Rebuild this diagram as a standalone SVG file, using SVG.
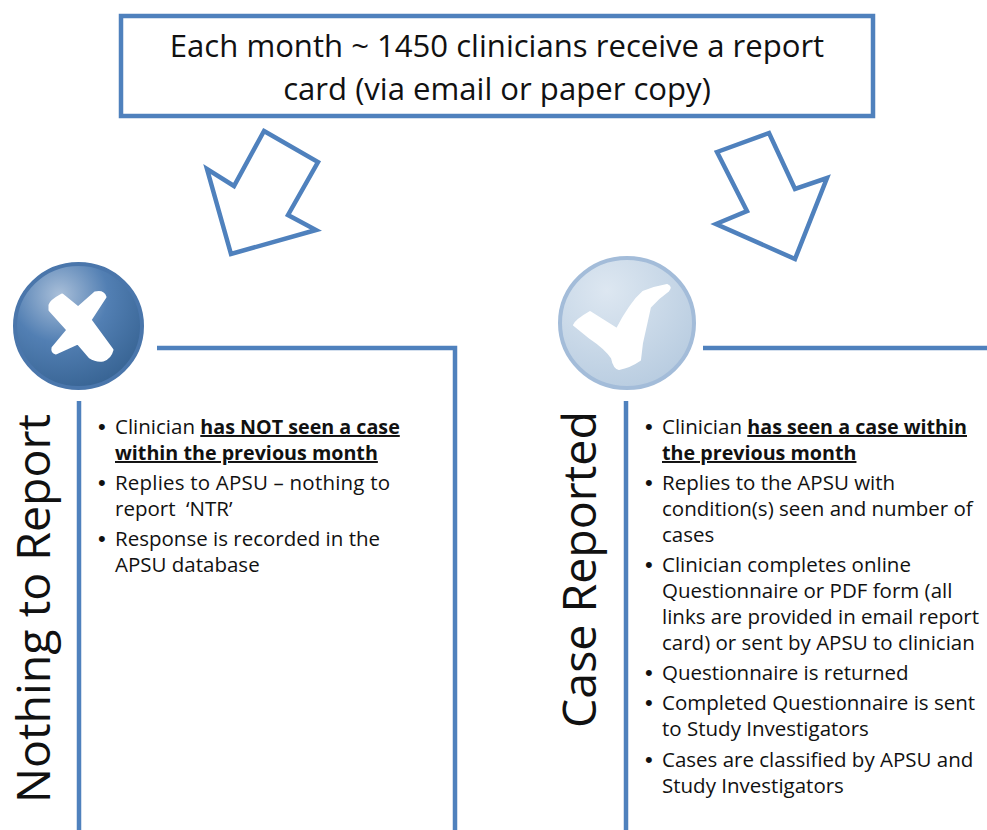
<svg xmlns="http://www.w3.org/2000/svg" width="987" height="830" viewBox="0 0 987 830">
<style>
text{font-family:"Open Sans","Noto Sans",sans-serif;fill:#111}
.b{font-size:20.5px}
.d{font-family:"Liberation Sans",sans-serif;font-size:22px}
.s{font-weight:700;text-decoration:underline;font-size:19.7px}
.l{fill:none;stroke:#4f81bd;stroke-width:4.5}
.v{font-size:46.5px}
</style>
<defs>
<radialGradient id="g1" cx="35%" cy="25%" r="85%"><stop offset="0" stop-color="#a9bfd9"/><stop offset="0.45" stop-color="#527fb3"/><stop offset="1" stop-color="#34608f"/></radialGradient>
<radialGradient id="g2" cx="35%" cy="25%" r="80%"><stop offset="0" stop-color="#dde7f1"/><stop offset="1" stop-color="#b8cce0"/></radialGradient>
</defs>
<rect width="987" height="830" fill="#fff"/>
<g id="top"><rect class="l" x="121" y="16" width="752" height="100" fill="#fff"/>
<text x="497" y="57" font-size="31.1" text-anchor="middle">Each month ~ 1450 clinicians receive a report</text>
<text x="497" y="100" font-size="31.1" text-anchor="middle">card (via email or paper copy)</text></g>
<g id="connectors">
<polygon class="l" points="264,131 318,162 288,215 316,230 231,254 207,169 234,186"/>
<polygon class="l" points="717,152 769,133 795,189 827,178 795,259 716,224 747,211"/>
</g>
<g id="ntr">
<ellipse cx="78.500" cy="326" rx="63.500" ry="62" fill="url(#g1)" stroke="#4a76ab" stroke-width="4"/>
<path d="M50,305 Q51,301 62,295 L78,308 L95,293 Q103,291 105,297 L90,320 L112,350 Q110,358 103,360 Q96,361 90,357 L78,343 L56,353 Q52,352 53,348 L68,330 L50,310 Z" fill="#fff" stroke="#fff" stroke-width="3" stroke-linejoin="round"/>
<polyline class="l" points="157,348 455,348 455,830"/>
<line class="l" x1="79" y1="401" x2="79" y2="830"/>
<text class="v" transform="translate(50,803) rotate(-90)">Nothing to Report</text>
<g class="b">
<text class="d" x="98" y="434">•</text><text x="115" y="434">Clinician <tspan class="s">has NOT seen a case</tspan></text>
<text x="115" y="460" class="s">within the previous month</text>
<text class="d" x="98" y="490">•</text><text x="115" y="490" textLength="275">Replies to APSU – nothing to</text>
<text x="115" y="516" xml:space="preserve">report  ‘NTR’</text>
<text class="d" x="98" y="546">•</text><text x="115" y="546">Response is recorded in the</text>
<text x="115" y="572">APSU database</text>
</g></g>
<g id="cr">
<ellipse cx="627" cy="323" rx="67" ry="65" fill="url(#g2)" stroke="#a3bcd9" stroke-width="4"/>
<path d="M574,325 Q576,320 590,312 L617,329 Q623,317 630,307 Q636,298 643,292 Q655,287 667,285 Q672,287 668,291 Q658,298 650,307 L642,343 L640,360 Q630,367 619,369 Q614,368 612,358 Q605,348 590,338 Z" fill="#fff" stroke="#fff" stroke-width="2" stroke-linejoin="round"/>
<line class="l" x1="703" y1="348" x2="987" y2="348"/>
<line class="l" x1="626" y1="401" x2="626" y2="830"/>
<text class="v" transform="translate(596,728) rotate(-90)">Case Reported</text>
<g class="b">
<text class="d" x="645" y="434">•</text><text x="662" y="434">Clinician <tspan class="s">has seen a case within</tspan></text>
<text x="662" y="460" class="s">the previous month</text>
<text class="d" x="645" y="490">•</text><text x="662" y="490">Replies to the APSU with</text>
<text x="662" y="516">condition(s) seen and number of</text>
<text x="662" y="542">cases</text>
<text class="d" x="645" y="572">•</text><text x="662" y="572">Clinician completes online</text>
<text x="662" y="598">Questionnaire or PDF form (all</text>
<text x="662" y="624">links are provided in email report</text>
<text x="662" y="650">card) or sent by APSU to clinician</text>
<text class="d" x="645" y="680">•</text><text x="662" y="680">Questionnaire is returned</text>
<text class="d" x="645" y="710">•</text><text x="662" y="710">Completed Questionnaire is sent</text>
<text x="662" y="736">to Study Investigators</text>
<text class="d" x="645" y="767">•</text><text x="662" y="767">Cases are classified by APSU and</text>
<text x="662" y="793">Study Investigators</text>
</g></g>
</svg>
